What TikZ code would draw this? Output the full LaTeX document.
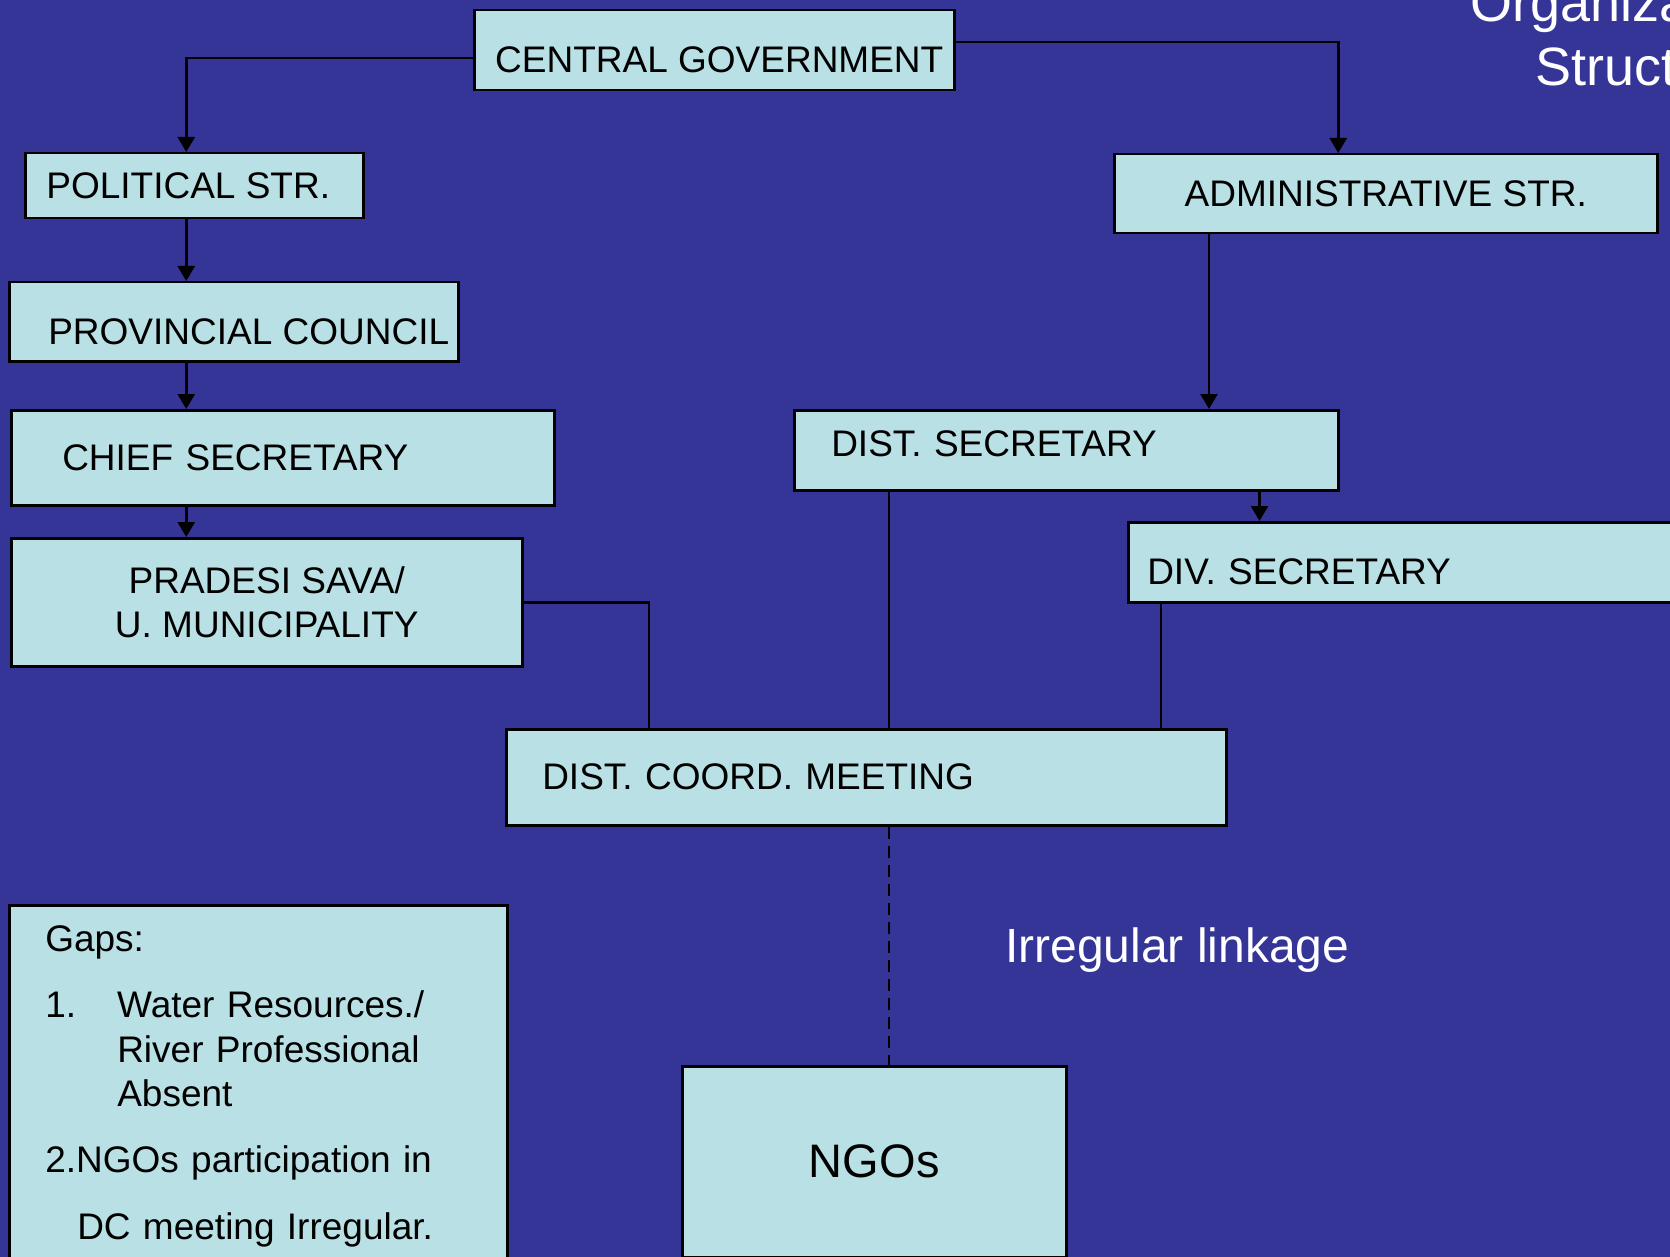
\documentclass[tikz,border=0pt]{standalone}
\usepackage{fontspec}
\setmainfont{Liberation Sans}
\usetikzlibrary{positioning,arrows.meta}
\definecolor{slide}{RGB}{53,53,151}
\definecolor{boxfill}{RGB}{185,224,228}

\begin{document}
\begin{tikzpicture}[
            x=1pt,y=-1pt,
            box/.style={
                    draw=black,
                    line width=2.5pt,
                    fill=boxfill,
                    anchor=north west,
                    inner xsep=4pt,
                    inner ysep=0pt,
                    align=center,
                    font=\fontsize{37}{44.5}\selectfont
                },
            lbox/.style={
                    box,
                    align=left
                },
            lower/.style={text height=#1, text depth=0pt},
            link/.style={
                    line width=2.5pt,
                    -{Triangle[width=17pt,length=15pt]}
                },
            plain/.style={line width=2.5pt},
            slidetext/.style={text=white, inner sep=0pt, anchor=base west}
        ]
        \useasboundingbox (0,0) rectangle (1670,1257);
        \clip (0,0) rectangle (1670,1257);
        \fill[slide] (0,0) rectangle (1670,1257);

        \node[slidetext,font=\fontsize{54}{64}\selectfont] at (1470,22)
        (title1) {Organiza};
        \node[slidetext,font=\fontsize{54}{64}\selectfont] at (1535,86)
        (title2) {Struct};

        % political side
        \node[box,lower=44pt,minimum width=480pt,minimum height=80pt] at (473,9)
        (cg) {\hspace*{10pt}CENTRAL GOVERNMENT};
        \node[box,minimum width=338pt,minimum height=65pt] at (24,152)
        (pol) {POLITICAL STR.\hspace*{12pt}};
        \node[box,lower=46pt,minimum width=449pt,minimum height=79pt] at (8,281)
        (prov) {\hspace*{30pt}PROVINCIAL COUNCIL};
        \node[lbox,inner xsep=51pt,text width=441pt,minimum height=95pt] at (10,409)
        (chief) {CHIEF SECRETARY};
        \node[box,minimum width=511pt,minimum height=128pt] at (10,537)
        (prad) {PRADESI SAVA/\\U. MUNICIPALITY};

        % administrative side
        \node[box,minimum width=543pt,minimum height=79pt] at (1113,153)
        (adm) {ADMINISTRATIVE STR.};
        \node[lbox,text height=27pt,text depth=15pt,inner xsep=37pt,text width=470pt,minimum height=80pt] at (793,409)
        (dsec) {DIST. SECRETARY};
        \node[lbox,lower=44pt,inner xsep=19pt,text width=540pt,minimum height=80pt] at (1127,521)
        (div) {DIV. SECRETARY};

        \node[lbox,inner xsep=36pt,text width=648pt,minimum height=96pt] at (505,728)
        (coord) {DIST. COORD. MEETING};
        \node[box,minimum width=384pt,minimum height=191pt,font=\fontsize{47}{56}\selectfont] at (681,1065)
        (ngo) {NGOs};
        \node[slidetext,font=\fontsize{48}{56}\selectfont] at (1005,962)
        (irr) {Irregular linkage};

        \node[lbox,inner xsep=36pt,text width=426pt,inner ysep=20pt] at (8,904)
        (gaps) {Gaps:\\[22pt]
            \makebox[72pt][l]{1.}Water Resources./\\
            \hspace*{72pt}River Professional\\
            \hspace*{72pt}Absent\\[21pt]
            2.NGOs participation in\\[23pt]
            \hspace*{32pt}DC meeting Irregular.\\[20pt]};

        \coordinate (lspine) at ([xshift=-8pt]pol.north);
        \coordinate (aleg) at ([xshift=96pt]adm.south west);
        \coordinate (dleg) at ([xshift=-80pt]dsec.south east);
        \coordinate (mid) at ([xshift=96pt]dsec.south west);
        \coordinate (vleg) at ([xshift=34pt]div.south west);

        \draw[link] ([yshift=-8pt]cg.west) -| (lspine);
        \draw[link] ([yshift=8pt]cg.east) -| ([xshift=-47.5pt]adm.north);
        \draw[link] (lspine |- pol.south) -- (lspine |- prov.north);
        \draw[link] (lspine |- prov.south) -- (lspine |- chief.north);
        \draw[link] (lspine |- chief.south) -- (lspine |- prad.north);
        \draw[link] (aleg) -- (aleg |- dsec.north);
        \draw[link] (dleg) -- (dleg |- div.north);

        \draw[plain] (prad.east) -| ([xshift=144pt]coord.north west);
        \draw[plain] (mid) -- (mid |- coord.north);
        \draw[plain] (vleg) -- (vleg |- coord.north);
        \draw[line width=2pt,dash pattern=on 12pt off 7pt] (mid |- coord.south) -- (mid |- ngo.north);
    \end{tikzpicture}
\end{document}
